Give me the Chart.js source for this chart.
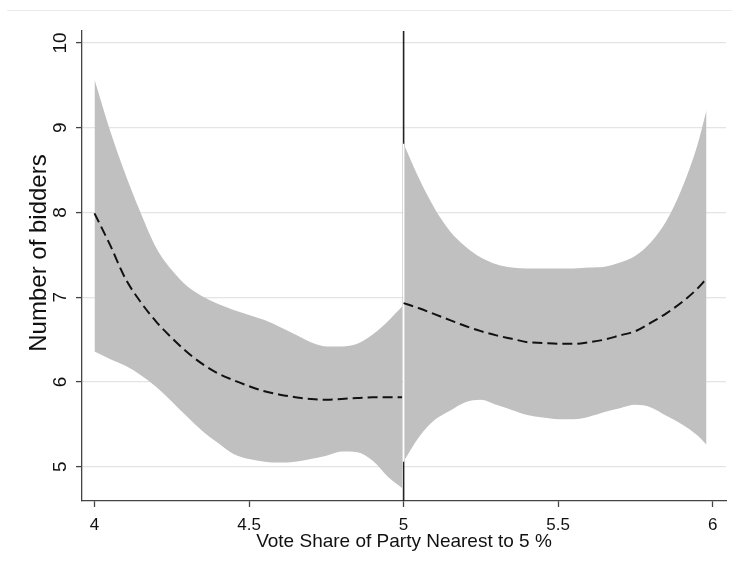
<!DOCTYPE html>
<html>
<head>
<meta charset="utf-8">
<script src="https://cdn.jsdelivr.net/npm/chart.js@4.4.0/dist/chart.umd.min.js"></script>
<style>
  html, body { margin: 0; padding: 0; background: #fff; }
  #wrap { position: relative; width: 732px; height: 576px; }
  #rule { position: absolute; left: 7px; right: 0; top: 10px; height: 1px; background: #ececec; }
  canvas { position: absolute; left: 0; top: 0; }
</style>
</head>
<body>
<div id="wrap">
  <div id="rule"></div>
  <canvas id="c" width="732" height="576"></canvas>
</div>
<script>
// Threshold and axis labels
const cutoff = 5;
const xTitle = 'Vote Share of Party Nearest to 5 %';
const yTitle = 'Number of bidders';
const xTicks = [4, 4.5, 5, 5.5, 6];
const xTickLabels = ['4', '4.5', '5', '5.5', '6'];
const yTicks = [5, 6, 7, 8, 9, 10];
const yTickLabels = ['5', '6', '7', '8', '9', '10'];

// Below the threshold: fitted number of bidders with confidence band
const xLeft     = [4.00, 4.05, 4.10, 4.15, 4.20, 4.25, 4.30, 4.35, 4.40, 4.45, 4.50, 4.55, 4.60, 4.65, 4.70, 4.75, 4.80, 4.85, 4.90, 4.95, 4.995];
const upperLeft = [9.57, 8.97, 8.45, 7.99, 7.58, 7.32, 7.13, 7.01, 6.92, 6.85, 6.79, 6.73, 6.65, 6.56, 6.47, 6.42, 6.42, 6.45, 6.56, 6.72, 6.89];
const lowerLeft = [6.36, 6.27, 6.19, 6.08, 5.94, 5.77, 5.59, 5.42, 5.28, 5.15, 5.09, 5.06, 5.05, 5.06, 5.09, 5.13, 5.18, 5.17, 5.07, 4.88, 4.75];
const meanLeft  = [7.99, 7.62, 7.22, 6.94, 6.71, 6.52, 6.35, 6.21, 6.10, 6.02, 5.95, 5.89, 5.85, 5.82, 5.80, 5.79, 5.80, 5.81, 5.82, 5.82, 5.82];

// Above the threshold
const xRight     = [5.00, 5.05, 5.10, 5.15, 5.20, 5.25, 5.30, 5.35, 5.40, 5.45, 5.50, 5.55, 5.60, 5.65, 5.70, 5.75, 5.80, 5.85, 5.90, 5.95, 5.98];
const upperRight = [8.81, 8.40, 8.05, 7.78, 7.60, 7.47, 7.39, 7.35, 7.34, 7.34, 7.34, 7.34, 7.35, 7.36, 7.41, 7.49, 7.65, 7.90, 8.28, 8.79, 9.21];
const lowerRight = [5.06, 5.35, 5.55, 5.66, 5.76, 5.79, 5.73, 5.67, 5.61, 5.58, 5.56, 5.56, 5.59, 5.645, 5.69, 5.73, 5.70, 5.60, 5.50, 5.37, 5.26];
const meanRight  = [6.93, 6.87, 6.80, 6.73, 6.66, 6.60, 6.55, 6.51, 6.47, 6.46, 6.45, 6.45, 6.47, 6.50, 6.55, 6.60, 6.70, 6.81, 6.94, 7.10, 7.22];

const pts = (xs, ys) => xs.map((x, i) => ({ x: x, y: ys[i] }));

const fontFamily = "'Liberation Sans', Arial, sans-serif";
const bandColor = '#c0c0c0';
const axisColor = '#444';
const RIGHT_UPPER = 4;

// Vertical reference line at the threshold, plus the band's white outline on its left edge
const cutoffLine = {
  id: 'cutoffLine',
  beforeDatasetsDraw(chart) {
    const { ctx, chartArea, scales } = chart;
    const px = scales.x.getPixelForValue(cutoff);
    ctx.save();
    ctx.strokeStyle = '#222';
    ctx.lineWidth = 1.6;
    ctx.beginPath();
    ctx.moveTo(px, chartArea.top);
    ctx.lineTo(px, chartArea.bottom);
    ctx.stroke();
    ctx.restore();
  },
  afterDatasetDraw(chart, args) {
    if (args.index !== RIGHT_UPPER) return;
    const { ctx, scales } = chart;
    const px = scales.x.getPixelForValue(xRight[0]);
    ctx.save();
    ctx.strokeStyle = '#ffffff';
    ctx.lineWidth = 1.6;
    ctx.beginPath();
    ctx.moveTo(px, scales.y.getPixelForValue(upperRight[0]));
    ctx.lineTo(px, scales.y.getPixelForValue(lowerRight[0]));
    ctx.stroke();
    ctx.restore();
  }
};

// Vertical axis title, set a little above the middle of the plot area
const yAxisTitle = {
  id: 'yAxisTitle',
  afterDraw(chart) {
    const { ctx, chartArea } = chart;
    ctx.save();
    ctx.translate(39.5, (chartArea.top + chartArea.bottom) / 2 - 13);
    ctx.rotate(-Math.PI / 2);
    ctx.font = '24px ' + fontFamily;
    ctx.fillStyle = '#111';
    ctx.textAlign = 'center';
    ctx.textBaseline = 'middle';
    ctx.fillText(yTitle, 0, 0);
    ctx.restore();
  }
};

Chart.defaults.font.family = fontFamily;
Chart.defaults.color = '#111';

const meanStyle = {
  showLine: true, fill: false, pointRadius: 0,
  borderColor: '#111', borderWidth: 2, borderDash: [10, 5],
  cubicInterpolationMode: 'monotone', order: 0
};
const bandStyle = {
  showLine: true, pointRadius: 0,
  borderColor: 'rgba(0,0,0,0)', borderWidth: 0, backgroundColor: bandColor,
  cubicInterpolationMode: 'monotone', order: 1
};

new Chart(document.getElementById('c'), {
  type: 'scatter',
  data: {
    datasets: [
      Object.assign({ label: 'fit left',  data: pts(xLeft, meanLeft) }, meanStyle),
      Object.assign({ label: 'fit right', data: pts(xRight, meanRight) }, meanStyle),
      Object.assign({ label: 'ci left upper',  data: pts(xLeft, upperLeft), fill: '+1' }, bandStyle),
      Object.assign({ label: 'ci left lower',  data: pts(xLeft, lowerLeft), fill: false }, bandStyle),
      Object.assign({ label: 'ci right upper', data: pts(xRight, upperRight), fill: '+1' }, bandStyle),
      Object.assign({ label: 'ci right lower', data: pts(xRight, lowerRight), fill: false }, bandStyle)
    ]
  },
  options: {
    responsive: false,
    animation: false,
    events: [],
    layout: { padding: { top: 31, right: 6, bottom: 0, left: 0 } },
    plugins: { legend: { display: false }, tooltip: { enabled: false } },
    scales: {
      x: {
        type: 'linear',
        min: 3.9596,
        max: 6.043,
        afterBuildTicks: s => { s.ticks = xTicks.map(v => ({ value: v })); },
        afterFit: s => { s.height = 75; },
        ticks: {
          font: { size: 17 }, color: '#111', padding: 8,
          maxRotation: 0, autoSkip: false,
          callback: (v, i) => xTickLabels[i]
        },
        grid: { drawOnChartArea: false, drawTicks: true, tickLength: 6, tickColor: axisColor, tickWidth: 1.3 },
        border: { display: true, color: axisColor, width: 1.3 },
        title: { display: true, text: xTitle, font: { size: 19 }, color: '#111', padding: { top: 0, bottom: 23 } }
      },
      y: {
        type: 'linear',
        min: 4.5955,
        max: 10.1415,
        afterBuildTicks: s => { s.ticks = yTicks.map(v => ({ value: v })); },
        afterFit: s => { s.width = 82; },
        ticks: {
          font: { size: 19 }, color: '#111', padding: 5,
          minRotation: 90, maxRotation: 90, crossAlign: 'center', autoSkip: false,
          callback: (v, i) => yTickLabels[i]
        },
        grid: { color: '#e4e4e4', lineWidth: 1.2, drawTicks: true, tickLength: 6, tickColor: axisColor, tickWidth: 1.3 },
        border: { display: true, color: axisColor, width: 1.3 },
        title: { display: false }
      }
    }
  },
  plugins: [cutoffLine, yAxisTitle]
});
</script>
</body>
</html>
